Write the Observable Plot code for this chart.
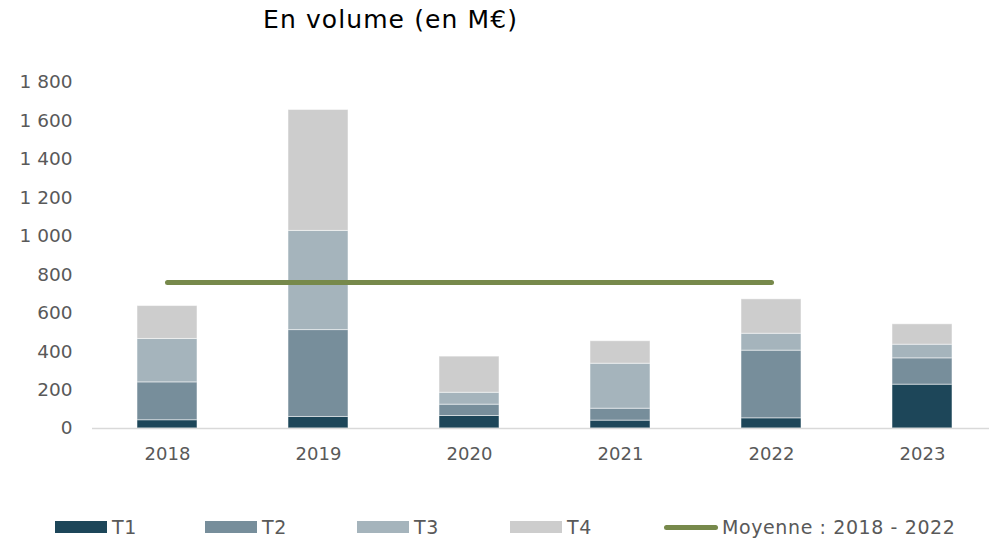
<!DOCTYPE html>
<html><head><meta charset="utf-8">
<script src="https://cdn.jsdelivr.net/npm/d3@7"></script>
<script src="https://cdn.jsdelivr.net/npm/@observablehq/plot@0.6"></script>
<style>
body{margin:0;background:#fff;font-family:"DejaVu Sans",sans-serif;}
#wrap{position:relative;width:989px;height:539px;overflow:hidden;}
#wrap svg{position:absolute;left:0;top:0;}
#title{position:absolute;left:263px;top:5px;font-size:25px;letter-spacing:1.1px;color:#000;white-space:nowrap;}
.leg{position:absolute;top:516px;height:22px;display:flex;align-items:center;font-size:19px;letter-spacing:0.6px;color:#595959;white-space:nowrap;}
.sw{width:52px;height:12px;margin-right:5px;}
.ln{width:54px;height:5px;border-radius:3px;margin-right:4px;}
</style></head><body>
<div id="wrap"><div id="title">En volume (en M€)</div></div>
<script>
const years = ["2018", "2019", "2020", "2021", "2022", "2023"];
const quarters = ["T1", "T2", "T3", "T4"];
const t1 = [43, 60, 65, 41, 53, 228];
const t2 = [197, 452, 59, 62, 352, 137];
const t3 = [226, 516, 62, 234, 88, 71];
const t4 = [171, 629, 188, 117, 179, 106];
const colors = ["#1d4659", "#778e9b", "#a5b4bc", "#cdcdcd"];
const avgLabel = "Moyenne : 2018 - 2022";
const avgYears = ["2018", "2022"];
const avgValue = 759;
const avgColor = "#77894b";
const yTicks = [0, 200, 400, 600, 800, 1000, 1200, 1400, 1600, 1800];

const seriesVals = [t1, t2, t3, t4];
const data = [];
years.forEach((y, i) => quarters.forEach((q, j) => data.push({year: y, quarter: q, value: seriesVals[j][i]})));
const avgData = avgYears.map(y => ({year: y, value: avgValue}));

const fmt = d3.formatLocale({decimal: ",", thousands: "\u00a0", grouping: [3], currency: ["", "€"]}).format(",");

const chart = Plot.plot({
  width: 989,
  height: 539,
  marginLeft: 92,
  marginRight: 0,
  marginTop: 82,
  marginBottom: 111,
  style: {fontFamily: "DejaVu Sans, sans-serif", fontSize: "18px", color: "#595959", background: "transparent"},
  x: {domain: years, range: [92, 998], paddingInner: 0.6, paddingOuter: 0.3, label: null},
  y: {domain: [0, 1800], label: null},
  color: {domain: quarters, range: colors},
  marks: [
    Plot.barY(data, {x: "year", y: "value", fill: "quarter", stroke: "white", strokeOpacity: 0.5, strokeWidth: 1}),
    Plot.ruleY([0], {stroke: "#d9d9d9", strokeWidth: 1.5}),
    Plot.lineY(avgData, {x: "year", y: "value", stroke: avgColor, strokeWidth: 5, strokeLinecap: "round"}),
    Plot.axisY({ticks: yTicks, tickSize: 0, tickPadding: 20, tickFormat: fmt, fill: "#595959", fontSize: 18.5}),
    Plot.axisX({tickSize: 0, tickPadding: 19, fill: "#595959", fontSize: 18})
  ]
});
const wrap = document.getElementById("wrap");
wrap.appendChild(chart);

const legPos = [55, 205, 357, 510];
quarters.forEach((q, i) => {
  const d = document.createElement("div");
  d.className = "leg";
  d.style.left = legPos[i] + "px";
  d.innerHTML = `<div class="sw" style="background:${colors[i]}"></div><span>${q}</span>`;
  wrap.appendChild(d);
});
const l = document.createElement("div");
l.className = "leg";
l.style.left = "664px";
l.innerHTML = `<div class="ln" style="background:${avgColor}"></div><span>${avgLabel}</span>`;
wrap.appendChild(l);
</script>
</body></html>
